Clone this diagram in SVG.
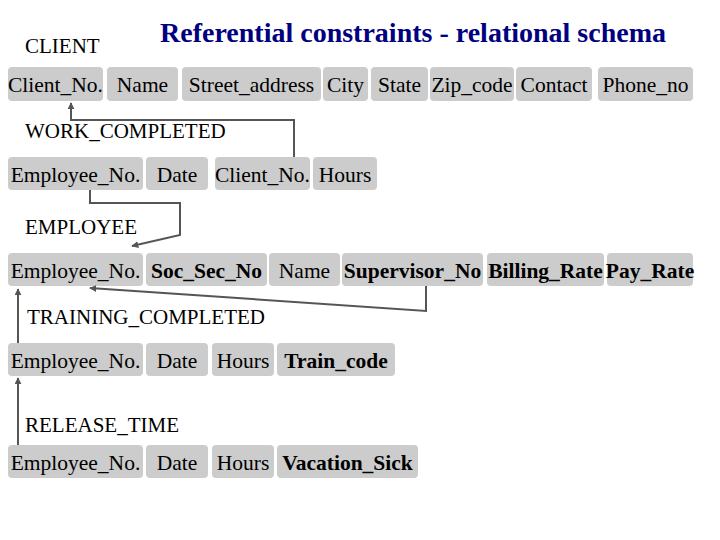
<svg xmlns="http://www.w3.org/2000/svg" width="720" height="540" viewBox="0 0 720 540">
<defs>
<style>
.b{fill:#cccccc}
.t{font-family:"Liberation Serif","Times New Roman",serif;font-size:21.5px;fill:#000;text-anchor:middle}
.bd{font-weight:bold}
.lbl{font-family:"Liberation Serif","Times New Roman",serif;font-size:21px;fill:#000}
.title{font-family:"Liberation Serif","Times New Roman",serif;font-size:28px;font-weight:bold;fill:#000080}
.c{fill:none;stroke:#555555;stroke-width:2}
</style>
<marker id="ah" viewBox="0 0 10 10" refX="9" refY="5" markerWidth="7" markerHeight="7" markerUnits="userSpaceOnUse" orient="auto">
<path d="M0,0 L10,5 L0,10 z" fill="#555555"/>
</marker>
</defs>
<rect width="720" height="540" fill="#ffffff"/>
<text class="title" x="160" y="42">Referential constraints - relational schema</text>

<g id="client">
<text class="lbl" x="25" y="53">CLIENT</text>
<rect class="b" x="8" y="67" width="95" height="34" rx="4"/>
<rect class="b" x="107" y="67" width="71" height="34" rx="4"/>
<rect class="b" x="182" y="67" width="139" height="34" rx="4"/>
<rect class="b" x="323" y="67" width="45" height="34" rx="4"/>
<rect class="b" x="371" y="67" width="57" height="34" rx="4"/>
<rect class="b" x="430" y="67" width="84" height="34" rx="4"/>
<rect class="b" x="516" y="67" width="76" height="34" rx="4"/>
<rect class="b" x="598" y="67" width="95" height="34" rx="4"/>
<text class="t" x="55.5" y="92">Client_No.</text>
<text class="t" x="142.5" y="92">Name</text>
<text class="t" x="251.5" y="92">Street_address</text>
<text class="t" x="345.5" y="92">City</text>
<text class="t" x="399.5" y="92">State</text>
<text class="t" x="472" y="92">Zip_code</text>
<text class="t" x="554" y="92">Contact</text>
<text class="t" x="645.5" y="92">Phone_no</text>
</g>

<g id="work_completed">
<text class="lbl" x="25" y="138">WORK_COMPLETED</text>
<rect class="b" x="8" y="157" width="135" height="33" rx="4"/>
<rect class="b" x="146" y="157" width="62" height="33" rx="4"/>
<rect class="b" x="215" y="157" width="95" height="33" rx="4"/>
<rect class="b" x="313" y="157" width="64" height="33" rx="4"/>
<text class="t" x="75.5" y="182">Employee_No.</text>
<text class="t" x="177" y="182">Date</text>
<text class="t" x="262.5" y="182">Client_No.</text>
<text class="t" x="345" y="182">Hours</text>
</g>

<g id="employee">
<text class="lbl" x="25" y="234">EMPLOYEE</text>
<rect class="b" x="8" y="253" width="135" height="33" rx="4"/>
<rect class="b" x="146" y="253" width="121" height="33" rx="4"/>
<rect class="b" x="269" y="253" width="71" height="33" rx="4"/>
<rect class="b" x="342" y="253" width="141" height="33" rx="4"/>
<rect class="b" x="487" y="253" width="117" height="33" rx="4"/>
<rect class="b" x="607" y="253" width="86" height="33" rx="4"/>
<text class="t" x="75.5" y="278">Employee_No.</text>
<text class="t bd" x="206.5" y="278">Soc_Sec_No</text>
<text class="t" x="304.5" y="278">Name</text>
<text class="t bd" x="412.5" y="278">Supervisor_No</text>
<text class="t bd" x="545.5" y="278">Billing_Rate</text>
<text class="t bd" x="650" y="278">Pay_Rate</text>
</g>

<g id="training_completed">
<text class="lbl" x="27" y="324">TRAINING_COMPLETED</text>
<rect class="b" x="8" y="343" width="135" height="33" rx="4"/>
<rect class="b" x="146" y="343" width="62" height="33" rx="4"/>
<rect class="b" x="212" y="343" width="62" height="33" rx="4"/>
<rect class="b" x="277" y="343" width="118" height="33" rx="4"/>
<text class="t" x="75.5" y="368">Employee_No.</text>
<text class="t" x="177" y="368">Date</text>
<text class="t" x="243" y="368">Hours</text>
<text class="t bd" x="336" y="368">Train_code</text>
</g>

<g id="release_time">
<text class="lbl" x="25" y="432">RELEASE_TIME</text>
<rect class="b" x="8" y="445" width="135" height="33" rx="4"/>
<rect class="b" x="146" y="445" width="62" height="33" rx="4"/>
<rect class="b" x="212" y="445" width="62" height="33" rx="4"/>
<rect class="b" x="277" y="445" width="141" height="33" rx="4"/>
<text class="t" x="75.5" y="470">Employee_No.</text>
<text class="t" x="177" y="470">Date</text>
<text class="t" x="243" y="470">Hours</text>
<text class="t bd" x="347.5" y="470">Vacation_Sick</text>
</g>

<g id="connectors">
<polyline class="c" points="294,157 294,120 71,120 71,103" marker-end="url(#ah)"/>
<polyline class="c" points="90,190 90,203 180,203 180,235 132,246" marker-end="url(#ah)"/>
<polyline class="c" points="426,286 426,311 90,288" marker-end="url(#ah)"/>
<line class="c" x1="18" y1="343" x2="18" y2="289" marker-end="url(#ah)"/>
<line class="c" x1="18" y1="445" x2="18" y2="378" marker-end="url(#ah)"/>
</g>
</svg>
